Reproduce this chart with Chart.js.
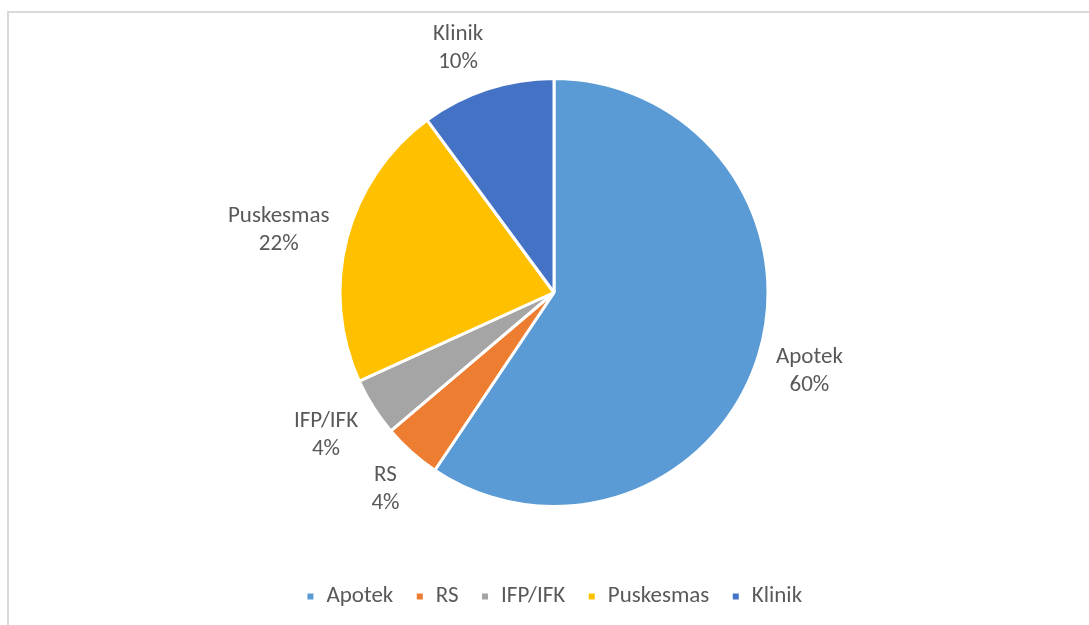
<!DOCTYPE html>
<html>
<head>
<meta charset="utf-8">
<script src="https://cdn.jsdelivr.net/npm/chart.js@4.4.1/dist/chart.umd.min.js"></script>
<style>
  html, body { margin: 0; padding: 0; background: #ffffff; }
  #wrap { position: relative; width: 1089px; height: 625px; overflow: hidden; }
  #frame { position: absolute; left: 7px; top: 11px; width: 1100px; height: 640px;
           border-top: 2px solid #d9d9d9; border-left: 2px solid #d9d9d9; box-sizing: border-box; }
  canvas { position: absolute; left: 0; top: 0; }
</style>
</head>
<body>
<div id="wrap">
  <div id="frame"></div>
  <canvas id="c" width="1089" height="625"></canvas>
</div>
<script>
const categories = ["Apotek", "RS", "IFP/IFK", "Puskesmas", "Klinik"];
const values = [59.4, 4.4, 4.4, 21.7, 10.1];
const percentLabels = ["60%", "4%", "4%", "22%", "10%"];
const colors = ["#5B9BD5", "#ED7D31", "#A5A5A5", "#FFC000", "#4472C4"];

const FONT = "Carlito, Lato, 'Liberation Sans', sans-serif";
const TEXT = "#595959";

const outsideLabels = {
  id: "outsideLabels",
  afterDatasetsDraw(chart) {
    const ctx = chart.ctx;
    const meta = chart.getDatasetMeta(0);
    ctx.save();
    ctx.font = "23px " + FONT;
    ctx.fillStyle = TEXT;
    ctx.textAlign = "center";
    ctx.textBaseline = "middle";
    const lineH = 28;
    meta.data.forEach((arc, i) => {
      const p = arc.getProps(["x", "y", "startAngle", "endAngle", "outerRadius"], true);
      const mid = (p.startAngle + p.endAngle) / 2;
      const cx = Math.cos(mid), sy = Math.sin(mid);
      const lines = [categories[i], percentLabels[i]];
      const w = Math.max(...lines.map(l => ctx.measureText(l).width));
      const h = lineH * lines.length;
      const d = p.outerRadius + 18;
      const ax = p.x + cx * d;
      const ay = p.y + sy * d;
      const lx = ax + Math.sign(cx) * Math.min(1, Math.abs(cx) * 3) * w / 2;
      const ly = ay + sy * h / 2 + 3;
      lines.forEach((l, k) => {
        ctx.fillText(l, lx, ly + (k - (lines.length - 1) / 2) * lineH);
      });
    });
    ctx.restore();
  }
};

new Chart(document.getElementById("c"), {
  type: "pie",
  data: {
    labels: categories,
    datasets: [{
      data: values,
      backgroundColor: colors,
      borderColor: "#ffffff",
      borderWidth: 3
    }]
  },
  options: {
    responsive: false,
    animation: false,
    radius: 214,
    layout: { padding: { left: 19, right: 0, top: 22, bottom: 7 } },
    plugins: {
      legend: {
        position: "bottom",
        labels: {
          font: { family: FONT, size: 23 },
          color: TEXT,
          boxWidth: 9,
          boxHeight: 9,
          padding: 22
        }
      },
      tooltip: { enabled: false }
    }
  },
  plugins: [outsideLabels]
});
</script>
</body>
</html>
